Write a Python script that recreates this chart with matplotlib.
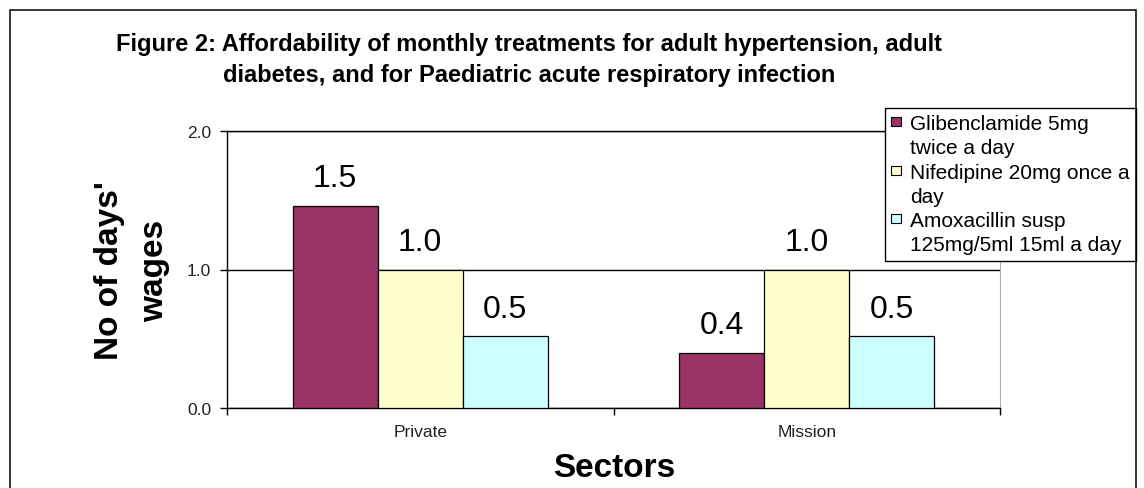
#Imports
import numpy as np
import matplotlib
matplotlib.use('Agg')
import matplotlib.pyplot as plt
from matplotlib.patches import Patch, Rectangle

plt.rcParams['font.family'] = ['Liberation Sans', 'DejaVu Sans']

#Data
sectors = ['Private', 'Mission']
medicines = ['Glibenclamide 5mg\ntwice a day',
             'Nifedipine 20mg once a\nday',
             'Amoxacillin susp\n125mg/5ml 15ml a day']
glibenclamide = [1.46, 0.40]
nifedipine = [1.00, 1.00]
amoxicillin = [0.52, 0.52]
series = [glibenclamide, nifedipine, amoxicillin]
colors = ['#993366', '#FFFFCC', '#CCFFFF']
yticks = [0.0, 1.0, 2.0]
title = ('Figure 2: Affordability of monthly treatments for adult hypertension, adult\n'
         'diabetes, and for Paediatric acute respiratory infection')

#Figure
W, H = 1144, 489
fig = plt.figure(figsize=(W / 100, H / 100), dpi=100)
fig.patch.set_facecolor('white')
ax = fig.add_axes([227 / W, 1 - 409 / H, (1000 - 227) / W, (409 - 132) / H])

#Outer chart frame
frame = Rectangle((10 / W, -0.1), (1136 - 10) / W, 1.1 - 11 / H, transform=fig.transFigure,
                  fill=False, edgecolor='black', linewidth=1.1)
fig.patches.append(frame)

#Bars
x = np.arange(len(sectors))
w = 0.22
for j, vals in enumerate(series):
    pos = x + (j - 1) * w
    bars = ax.bar(pos, vals, width=w, color=colors[j], edgecolor='black', linewidth=0.9, zorder=3)
    for b, v in zip(bars, vals):
        ax.annotate('%.1f' % v, (b.get_x() + b.get_width() / 2, v), xytext=(0, 14),
                    textcoords='offset points', ha='center', va='baseline', fontsize=23)

#Axes
ax.set_xlim(-0.5, 1.5)
ax.set_ylim(0, 2)
ax.set_yticks(yticks)
ax.set_yticklabels(['%.1f' % t for t in yticks])
ax.tick_params(axis='y', direction='out', length=5, width=1, pad=6.5, labelsize=12.5, labelcolor='#222222')
ax.set_xticks(x)
ax.set_xticklabels(sectors)
ax.tick_params(axis='x', length=0, pad=11.5, labelsize=12.5, labelcolor='#222222')
ax.set_xticks([-0.5, 0.5, 1.5], minor=True)
ax.tick_params(axis='x', which='minor', direction='out', length=5, width=1)
ax.yaxis.grid(True, color='black', linewidth=1, zorder=1)
ax.set_axisbelow(True)
for s in ['left', 'bottom', 'top']:
    ax.spines[s].set_color('black')
    ax.spines[s].set_linewidth(1)
ax.spines['right'].set_color('#b0b0b0')

#Labels
fig.text(529 / W, 1 - 60 / H, title, ha='center', va='center', multialignment='center',
         fontsize=17, fontweight='bold', linespacing=1.45)
fig.text(132 / W, 1 - 271 / H, "No of days'\nwages", rotation=90, ha='center', va='center',
         multialignment='center', fontsize=24, fontweight='bold', linespacing=1.6)
fig.text(614.5 / W, 1 - 469 / H, 'Sectors', ha='center', va='center', fontsize=24, fontweight='bold')

#Legend (one row per text line, so the swatch sits on the first line)
handles = []
labels = []
for name, c in zip(medicines, colors):
    first, second = name.split('\n')
    handles.append(Patch(facecolor=c, edgecolor='black', linewidth=0.8))
    labels.append(first)
    handles.append(Patch(facecolor='none', edgecolor='none'))
    labels.append(second)
leg = ax.legend(handles, labels, loc='upper left', bbox_to_anchor=(885 / W, 1 - 109 / H),
                bbox_transform=fig.transFigure, borderaxespad=0, fontsize=15, frameon=True,
                fancybox=False, edgecolor='black', framealpha=1, borderpad=0.3,
                labelspacing=0.25, handlelength=0.45, handleheight=0.3, handletextpad=0.45)
leg.get_frame().set_linewidth(1)
leg.set_zorder(5)

fig.savefig('out.png', dpi=100)
